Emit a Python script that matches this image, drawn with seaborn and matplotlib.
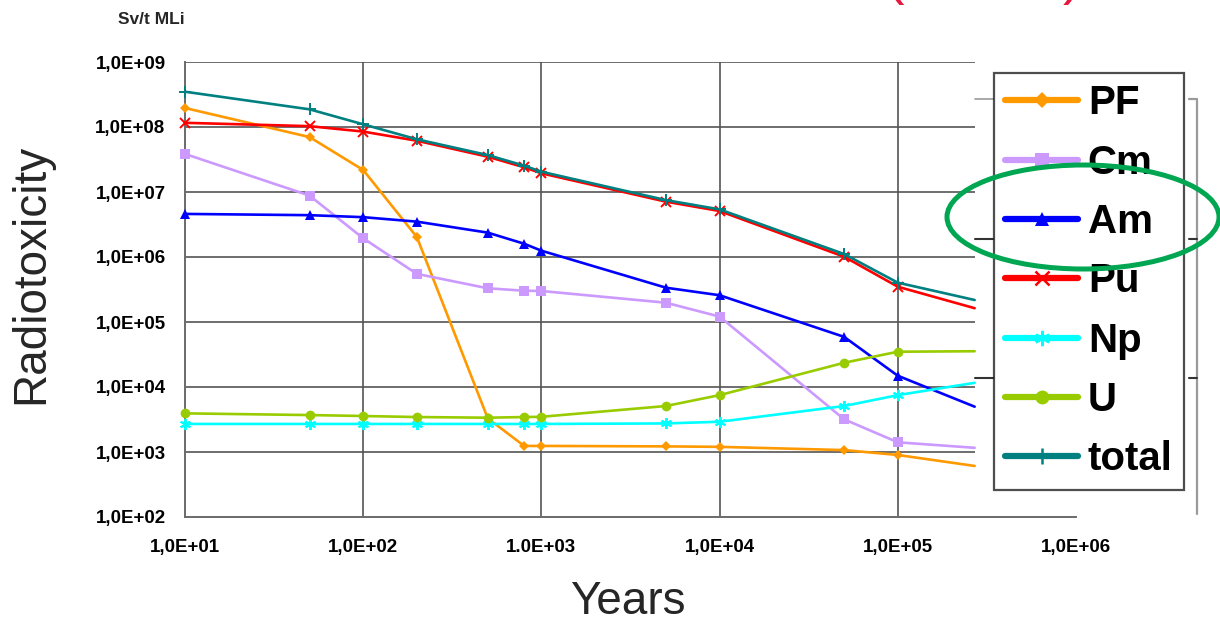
import numpy as np
import pandas as pd
import matplotlib
matplotlib.use("Agg")
import matplotlib.pyplot as plt
from matplotlib.lines import Line2D
from matplotlib.patches import Ellipse
import seaborn as sns

# ---------------- data ----------------
years = [10, 50, 100, 200, 500, 800, 1000, 5000, 10000, 50000, 100000, 270000]

PF = [1.96e8, 7.0e7, 2.18e7, 2.03e6, 3.3e3, 1.24e3, 1.24e3, 1.22e3, 1.2e3, 1.07e3, 9.0e2, 6.1e2]
Cm = [3.85e7, 8.8e6, 1.94e6, 5.5e5, 3.3e5, 3.03e5, 3.0e5, 1.98e5, 1.21e5, 3.18e3, 1.41e3, 1.16e3]
Am = [4.6e6, 4.4e6, 4.1e6, 3.5e6, 2.37e6, 1.6e6, 1.25e6, 3.37e5, 2.58e5, 5.9e4, 1.49e4, 4.98e3]
Pu = [1.16e8, 1.03e8, 8.5e7, 6.15e7, 3.49e7, 2.4e7, 1.94e7, 7.1e6, 5.1e6, 1.01e6, 3.49e5, 1.63e5]
Np = [2.7e3, 2.7e3, 2.7e3, 2.7e3, 2.7e3, 2.7e3, 2.7e3, 2.75e3, 2.92e3, 5.1e3, 7.5e3, 1.16e4]
U = [3.93e3, 3.7e3, 3.58e3, 3.45e3, 3.37e3, 3.45e3, 3.48e3, 5.1e3, 7.5e3, 2.36e4, 3.49e4, 3.55e4]
total = [3.49e8, 1.87e8, 1.1e8, 6.47e7, 3.7e7, 2.54e7, 2.05e7, 7.5e6, 5.4e6, 1.11e6, 4.03e5, 2.18e5]

series_names = ["PF", "Cm", "Am", "Pu", "Np", "U", "total"]
series_values = [PF, Cm, Am, Pu, Np, U, total]

x_ticks = [1e1, 1e2, 1e3, 1e4, 1e5, 1e6]
x_tick_labels = ["1,0E+01", "1,0E+02", "1.0E+03", "1,0E+04", "1,0E+05", "1,0E+06"]
y_ticks = [1e2, 1e3, 1e4, 1e5, 1e6, 1e7, 1e8, 1e9]
y_tick_labels = ["1,0E+02", "1,0E+03", "1,0E+04", "1,0E+05", "1,0E+06", "1,0E+07", "1,0E+08", "1,0E+09"]

# ---------------- styles ----------------
colors = {"PF": "#FF9900", "Cm": "#CC99FF", "Am": "#0000FF", "Pu": "#FF0000",
          "Np": "#00FFFF", "U": "#99CC00", "total": "#008080"}
markers = {"PF": "D", "Cm": "s", "Am": "^", "Pu": "x", "Np": (6, 2, 0), "U": "o", "total": "+"}
msizes = {"PF": 5, "Cm": 6.5, "Am": 7, "Pu": 7, "Np": 8, "U": 7, "total": 9}

sns.set_theme(style="white")
plt.rcParams["font.family"] = ["Liberation Sans", "DejaVu Sans"]

W, H = 1220, 624
fig = plt.figure(figsize=(W / 100, H / 100), dpi=100)
ax = fig.add_axes([185 / W, 1 - 517 / H, (1076 - 185) / W, (517 - 62) / H])

ax.set_xscale("log")
ax.set_yscale("log")
ax.set_xlim(x_ticks[0], x_ticks[-1])
ax.set_ylim(y_ticks[0], y_ticks[-1])

# grid (ends where the data ends, as in the picture)
grid_end = years[-1]
ax.hlines(y_ticks[1:], x_ticks[0], grid_end, colors="#555555", linewidth=1.2, zorder=1)
ax.vlines(x_ticks[1:5], y_ticks[0], y_ticks[-1], colors="#555555", linewidth=1.2, zorder=1)

df = pd.DataFrame({"year": years})
for name, vals in zip(series_names, series_values):
    df[name] = vals
    mk = markers[name]
    kw = dict(marker=mk, markersize=msizes[name], markevery=slice(0, len(years) - 1))
    if mk in ("x", "+", (6, 2, 0)):
        kw.update(markeredgewidth=1.4, markeredgecolor=colors[name])
    else:
        kw.update(markeredgewidth=0, markerfacecolor=colors[name])
    sns.lineplot(data=df, x="year", y=name, ax=ax, color=colors[name], linewidth=1.9,
                 sort=False, legend=False, zorder=3, clip_on=False, **kw)

ax.set_xlabel("")
ax.set_ylabel("")
ax.grid(False)
for s in ("top", "right"):
    ax.spines[s].set_visible(False)
for s in ("left", "bottom"):
    ax.spines[s].set_color("#6a6a6a")
    ax.spines[s].set_linewidth(1.4)

ax.set_xticks(x_ticks)
ax.set_xticklabels(x_tick_labels)
ax.set_yticks(y_ticks)
ax.set_yticklabels(y_tick_labels)
ax.minorticks_off()
ax.tick_params(axis="both", which="major", direction="out", length=6, width=1.2,
               color="#404040", labelsize=13.5, pad=8)
ax.tick_params(axis="x", pad=10)
for lab in ax.get_xticklabels() + ax.get_yticklabels():
    lab.set_fontweight("bold")
    lab.set_color("#000000")

# texts
fig.text(118 / W, 1 - 24 / H, "Sv/t MLi", fontsize=12.5, fontweight="bold", va="baseline", ha="left")
fig.text(628 / W, 1 - 614 / H, "Years", fontsize=33, ha="center", va="baseline")
fig.text(31 / W, 1 - 274 / H, "Radiotoxicity", fontsize=33, rotation=90, ha="center", va="center")
fig.text(895 / W, 1 + 7 / H, "(", fontsize=40, color="#E8173F", ha="center", va="baseline")
fig.text(1072 / W, 1 + 7 / H, ")", fontsize=40, color="#E8173F", ha="center", va="baseline")

# background frame fragments behind the legend
def fline(xs, ys, color, lw, z=1):
    fig.add_artist(Line2D([x / W for x in xs], [1 - y / H for y in ys], color=color,
                          linewidth=lw, transform=fig.transFigure, zorder=z))

fline([975, 994], [99, 99], "#9a9a9a", 1.2)
fline([1189, 1197, 1197], [99, 99, 514], "#9a9a9a", 1.6)
for yy in (239, 378):
    fline([975, 994], [yy, yy], "#333333", 1.5)
    fline([1189, 1197], [yy, yy], "#333333", 1.5)

# legend
handles = []
for name in series_names:
    mk = markers[name]
    kw = dict(marker=mk, markersize=msizes[name] + 3)
    if mk in ("x", "+", (6, 2, 0)):
        kw.update(markeredgewidth=1.8, markeredgecolor=colors[name])
    else:
        kw.update(markeredgewidth=0, markerfacecolor=colors[name])
    handles.append(Line2D([0], [0], color=colors[name], linewidth=4.5,
                          solid_capstyle="round", **kw))
leg = fig.legend(handles, series_names, loc="upper left",
                 bbox_to_anchor=(994 / W, 1 - 73 / H), bbox_transform=fig.transFigure,
                 borderaxespad=0, frameon=True, fancybox=False, shadow=False,
                 prop={"family": "Liberation Sans", "weight": "bold", "size": 29},
                 handlelength=1.8, handletextpad=0.25, borderpad=0.28, labelspacing=0.53)
leg.get_frame().set_edgecolor("#222222")
leg.get_frame().set_linewidth(1.6)
leg.get_frame().set_facecolor("white")
leg.set_zorder(5)
for t in leg.get_texts():
    t.set_color("#000000")

# green ellipse
fig.add_artist(Ellipse((1083 / W, 1 - 217 / H), 272 / W, 104 / H, fill=False,
                       edgecolor="#00A651", linewidth=3.6, transform=fig.transFigure, zorder=10))

fig.savefig("out.png", dpi=100)
